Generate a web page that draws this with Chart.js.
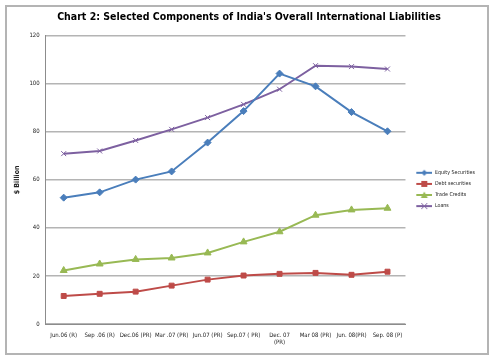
<!DOCTYPE html>
<html>
<head>
<meta charset="utf-8">
<script src="https://cdn.jsdelivr.net/npm/chart.js@4"></script>
<style>
  body { margin: 0; background: #fff; }
  #wrap { position: relative; width: 491px; height: 359px; }
  #frame { position: absolute; left: 5px; top: 5px; width: 480px; height: 346px; border: 2px solid #b4b4b4; pointer-events: none; }
  canvas { position: absolute; left: 0; top: 0; }
</style>
</head>
<body>
<div id="wrap">
  <canvas id="chart" width="491" height="359"></canvas>
  <div id="frame"></div>
</div>
<script>
let categories = [
    "Jun.06 (R)", "Sep .06 (R)", "Dec.06 (PR)", "Mar .07 (PR)", "Jun.07 (PR)",
    "Sep.07 ( PR)", ["Dec. 07", "(PR)"], "Mar 08 (PR)", "Jun. 08(PR)", "Sep. 08 (P)"
];
let equity = [52.6, 54.8, 60.1, 63.5, 75.5, 88.6, 104.2, 98.9, 88.2, 80.2];
let debt = [11.7, 12.6, 13.5, 16.0, 18.5, 20.2, 20.9, 21.3, 20.5, 21.8];
let trade = [22.3, 25.0, 26.9, 27.5, 29.6, 34.2, 38.4, 45.3, 47.5, 48.2];
let loans = [70.9, 72.0, 76.4, 81.0, 85.9, 91.4, 97.7, 107.5, 107.1, 106.1];
let seriesNames = ["Equity Securities", "Debt securities", "Trade Credits", "Loans"];
let yTicks = [0, 20, 40, 60, 80, 100, 120];

let fontName = "'DejaVu Sans Condensed', 'Liberation Sans', Arial, sans-serif";

// little line+marker picture for the legend (blank strip on the left as a gap)
function legendIcon(color, style) {
    let c = document.createElement("canvas");
    c.width = 21;
    c.height = 8;
    let g = c.getContext("2d");
    g.translate(5, 0);
    g.strokeStyle = color;
    g.fillStyle = color;
    g.lineWidth = 2;
    g.beginPath();
    g.moveTo(0, 4);
    g.lineTo(16, 4);
    g.stroke();
    g.beginPath();
    if (style == "rectRot") {
        g.moveTo(8, 1); g.lineTo(11, 4); g.lineTo(8, 7); g.lineTo(5, 4); g.closePath(); g.fill();
    } else if (style == "rect") {
        g.fillRect(5, 1, 6, 6);
    } else if (style == "triangle") {
        g.moveTo(8, 0.5); g.lineTo(11.5, 7); g.lineTo(4.5, 7); g.closePath(); g.fill();
    } else {
        g.lineWidth = 1;
        g.moveTo(5, 1); g.lineTo(11, 7); g.moveTo(11, 1); g.lineTo(5, 7); g.stroke();
    }
    return c;
}

function makeSet(label, data, color, style, radius) {
    return {
        label: label,
        data: data,
        borderColor: color,
        backgroundColor: color,
        borderWidth: 2,
        pointStyle: style,
        pointRadius: radius,
        pointBorderWidth: 1,
        pointBackgroundColor: color,
        pointBorderColor: color,
        tension: 0,
        icon: legendIcon(color, style)
    };
}

let ctx = document.getElementById("chart").getContext("2d");
let chart = new Chart(ctx, {
    type: "line",
    data: {
        labels: categories,
        datasets: [
            makeSet(seriesNames[0], equity, "#4a7ebb", "rectRot", 3.5),
            makeSet(seriesNames[1], debt, "#be4b48", "rect", 3.5),
            makeSet(seriesNames[2], trade, "#98b954", "triangle", 4),
            makeSet(seriesNames[3], loans, "#7d60a0", "crossRot", 3.5)
        ]
    },
    options: {
        responsive: false,
        animation: false,
        devicePixelRatio: 1,
        layout: {
            padding: { left: 13, right: 6, top: 4, bottom: 12.5 }
        },
        plugins: {
            title: {
                display: true,
                text: "Chart 2: Selected Components of India's Overall International Liabilities",
                color: "#000",
                font: { family: fontName, size: 10.5, weight: "bold" },
                padding: { top: 7, bottom: 12 }
            },
            legend: {
                position: "right",
                title: {
                    display: true,
                    text: " ",
                    font: { size: 7 },
                    padding: 10
                },
                labels: {
                    usePointStyle: true,
                    pointStyleWidth: 21,
                    boxHeight: 7,
                    padding: 5.8,
                    color: "#222",
                    font: { family: fontName, size: 5.3 },
                    generateLabels: function (ch) {
                        return ch.data.datasets.map(function (ds, i) {
                            return {
                                text: ds.label,
                                pointStyle: ds.icon,
                                fillStyle: ds.borderColor,
                                strokeStyle: ds.borderColor,
                                lineWidth: 0,
                                fontColor: "#222",
                                datasetIndex: i,
                                hidden: false
                            };
                        });
                    }
                }
            },
            tooltip: { enabled: false }
        },
        scales: {
            x: {
                offset: true,
                grid: { display: false },
                border: { display: true, color: "#8c8c8c", width: 1 },
                ticks: {
                    autoSkip: false,
                    maxRotation: 0,
                    color: "#222",
                    padding: 0,
                    font: { family: fontName, size: 6 }
                }
            },
            y: {
                min: 0,
                max: 120,
                afterBuildTicks: function (axis) {
                    axis.ticks = yTicks.map(v => ({ value: v }));
                },
                grid: { color: "#b4b4b4", lineWidth: 1.5, drawTicks: false },
                border: { display: true, color: "#8c8c8c", width: 1 },
                ticks: {
                    color: "#222",
                    padding: 6,
                    font: { family: fontName, size: 6 }
                },
                title: {
                    display: true,
                    text: "$ Billion",
                    color: "#222",
                    font: { family: fontName, size: 7, weight: "bold" },
                    padding: { top: 0, bottom: 2 }
                }
            }
        }
    }
});
</script>
</body>
</html>
